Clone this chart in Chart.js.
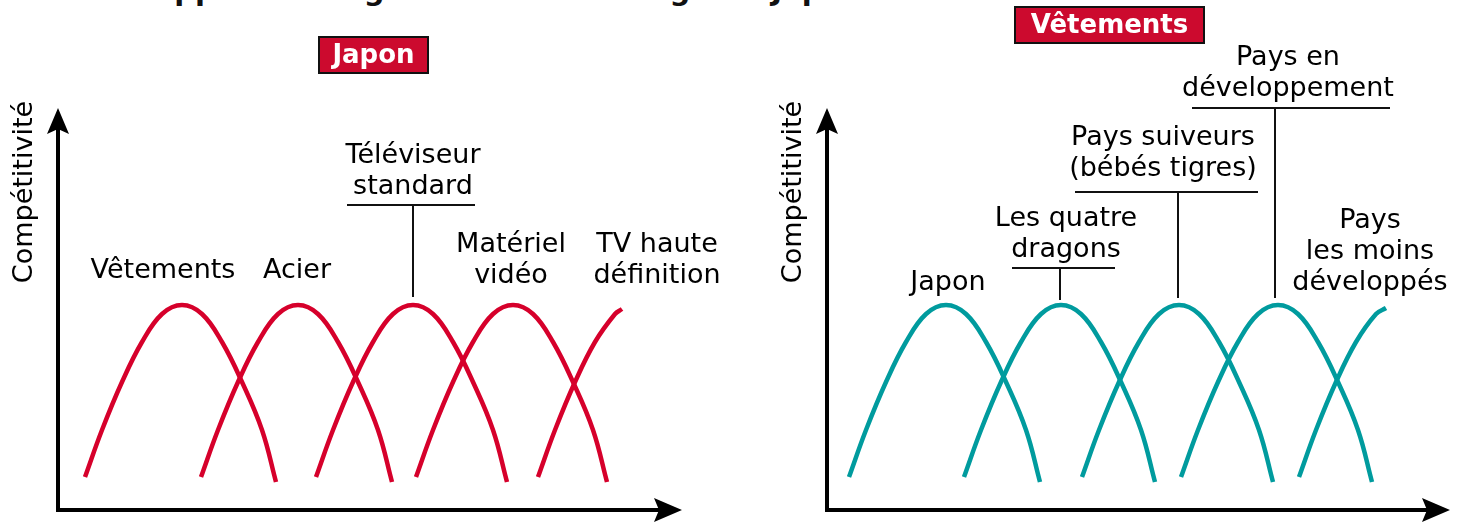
<!DOCTYPE html>
<html>
<head>
<meta charset="utf-8">
<script src="https://cdn.jsdelivr.net/npm/chart.js@4.4.0/dist/chart.umd.min.js"></script>
<style>
    html, body { margin: 0; padding: 0; background: #fff; }
    body { width: 1458px; height: 525px; position: relative; overflow: hidden; }
    #title { position: absolute; left: 62px; top: -24px; font: bold 29px/29px "DejaVu Sans"; color: #111; white-space: nowrap; }
    canvas { position: absolute; top: 0; }
    #left-chart { left: 0; }
    #right-chart { left: 729px; }
</style>
</head>
<body>
<div id="title">Développement régional dans le sillage du Japon</div>
<canvas id="left-chart" width="729" height="525"></canvas>
<canvas id="right-chart" width="729" height="525"></canvas>
<script>
// left panel: industries in Japan
const leftTitle = 'Japon';
const leftNames = ['Vêtements', 'Acier', 'Téléviseur\nstandard', 'Matériel\nvidéo', 'TV haute\ndéfinition'];
const leftVetements = [[27, 33], [44, 80], [64, 128], [84, 168], [104, 196], [124, 205], [144, 196], [164, 168], [184, 128], [204, 80], [218, 28]];
const leftAcier = [[143, 33], [160, 80], [180, 128], [200, 168], [220, 196], [240, 205], [260, 196], [280, 168], [300, 128], [320, 80], [334, 28]];
const leftTeleviseur = [[258, 33], [275, 80], [295, 128], [315, 168], [335, 196], [355, 205], [375, 196], [395, 168], [415, 128], [435, 80], [449, 28]];
const leftVideo = [[358, 33], [375, 80], [395, 128], [415, 168], [435, 196], [455, 205], [475, 196], [495, 168], [515, 128], [535, 80], [549, 28]];
const leftTvHd = [[480, 33], [497, 80], [517, 128], [537, 168], [557, 196], [564, 201]];

// right panel: clothing across the region
const rightTitle = 'Vêtements';
const rightNames = ['Japon', 'Les quatre\ndragons', 'Pays suiveurs\n(bébés tigres)', 'Pays en\ndéveloppement', 'Pays\nles moins\ndéveloppés'];
const rightJapon = [[22, 33], [39, 80], [59, 128], [79, 168], [99, 196], [119, 205], [139, 196], [159, 168], [179, 128], [199, 80], [213, 28]];
const rightDragons = [[137, 33], [154, 80], [174, 128], [194, 168], [214, 196], [234, 205], [254, 196], [274, 168], [294, 128], [314, 80], [328, 28]];
const rightSuiveurs = [[255, 33], [272, 80], [292, 128], [312, 168], [332, 196], [352, 205], [372, 196], [392, 168], [412, 128], [432, 80], [446, 28]];
const rightDev = [[354, 33], [371, 80], [391, 128], [411, 168], [431, 196], [451, 205], [471, 196], [491, 168], [511, 128], [531, 80], [545, 28]];
const rightPma = [[472, 33], [489, 80], [509, 128], [529, 168], [549, 196], [559, 202]];

const axisTitle = 'Compétitivité';

const RED = '#d6002b';
const TEAL = '#009b9e';
const BOX_RED = '#cc0a2e';
const FONT = '"DejaVu Sans", sans-serif';

// label placement (data units), kept apart from the series
const leftLabelPos = [
    { x: 105, y: 232 },
    { x: 239, y: 232 },
    { x: 355, y: 347, rule: { y: 305, from: 289, to: 417, x: 355, down: 213 } },
    { x: 453, y: 258 },
    { x: 599, y: 258 },
];
const rightLabelPos = [
    { x: 121, y: 220 },
    { x: 239, y: 284, rule: { y: 242, from: 185, to: 288, x: 233, down: 210 } },
    { x: 336, y: 365, rule: { y: 318, from: 248, to: 431, x: 351, down: 212 } },
    { x: 461, y: 445, rule: { y: 402, from: 365, to: 563, x: 448, down: 212 } },
    { x: 543, y: 282 },
];

function toPoints(arr) {
    return arr.map(p => ({ x: p[0], y: p[1] }));
}

const decorPlugin = {
    id: 'decor',
    afterDatasetsDraw(chart, args, opts) {
        const ctx = chart.ctx;
        const xs = chart.scales.x;
        const ys = chart.scales.y;
        const px = v => xs.getPixelForValue(v);
        const py = v => ys.getPixelForValue(v);
        const ca = chart.chartArea;
        const x0 = px(0);
        const y0 = py(0);

        ctx.save();

        // axes with arrow heads
        ctx.strokeStyle = '#000';
        ctx.fillStyle = '#000';
        ctx.lineWidth = 4;
        ctx.beginPath();
        ctx.moveTo(x0, y0 + 2);
        ctx.lineTo(x0, ca.top + 20);
        ctx.stroke();
        ctx.beginPath();
        ctx.moveTo(x0 - 2, y0);
        ctx.lineTo(ca.right - 20, y0);
        ctx.stroke();

        ctx.beginPath();
        ctx.moveTo(x0, ca.top);
        ctx.lineTo(x0 + 11, ca.top + 26);
        ctx.lineTo(x0, ca.top + 21);
        ctx.lineTo(x0 - 11, ca.top + 26);
        ctx.closePath();
        ctx.fill();

        ctx.beginPath();
        ctx.moveTo(ca.right, y0);
        ctx.lineTo(ca.right - 28, y0 - 12);
        ctx.lineTo(ca.right - 23, y0);
        ctx.lineTo(ca.right - 28, y0 + 12);
        ctx.closePath();
        ctx.fill();

        // rotated axis title
        ctx.save();
        ctx.translate(px(-33), py(318));
        ctx.rotate(-Math.PI / 2);
        ctx.font = '27px ' + FONT;
        ctx.textAlign = 'center';
        ctx.textBaseline = 'middle';
        ctx.fillStyle = '#000';
        ctx.fillText(axisTitle, 0, 0);
        ctx.restore();

        // red title box
        const b = opts.box;
        const bx = px(b.x1), by = py(b.y1);
        const bw = px(b.x2) - bx, bh = py(b.y2) - by;
        ctx.fillStyle = BOX_RED;
        ctx.fillRect(bx, by, bw, bh);
        ctx.lineWidth = 2;
        ctx.strokeStyle = '#111';
        ctx.strokeRect(bx, by, bw, bh);
        ctx.fillStyle = '#fff';
        ctx.font = 'bold 26px ' + FONT;
        ctx.textAlign = 'center';
        ctx.textBaseline = 'middle';
        ctx.fillText(b.text, bx + bw / 2, by + bh / 2 + 1);

        // curve labels and leader rules
        ctx.font = '27px ' + FONT;
        ctx.textBaseline = 'alphabetic';
        ctx.fillStyle = '#000';
        chart.data.datasets.forEach((ds, i) => {
            const pos = opts.labels[i];
            const lines = opts.names[i].split('\n');
            lines.forEach((line, k) => {
                ctx.fillText(line, px(pos.x), py(pos.y) + k * 31);
            });
            if (pos.rule) {
                const r = pos.rule;
                ctx.strokeStyle = '#111';
                ctx.lineWidth = 2;
                ctx.beginPath();
                ctx.moveTo(px(r.from), py(r.y));
                ctx.lineTo(px(r.to), py(r.y));
                ctx.moveTo(px(r.x), py(r.y));
                ctx.lineTo(px(r.x), py(r.down));
                ctx.stroke();
            }
        });

        ctx.restore();
    }
};

function makeChart(id, names, seriesList, color, padding, xMax, box, labels) {
    return new Chart(document.getElementById(id), {
        type: 'line',
        data: {
            datasets: seriesList.map((s, i) => ({
                label: names[i].replace(/\n/g, ' '),
                data: toPoints(s),
                borderColor: color,
                borderWidth: 4.5,
                pointRadius: 0,
                fill: false,
                tension: 0.4,
            })),
        },
        options: {
            responsive: false,
            animation: false,
            devicePixelRatio: 1,
            layout: { padding: padding },
            scales: {
                x: { type: 'linear', min: 0, max: xMax, display: false },
                y: { type: 'linear', min: 0, max: 402, display: false },
            },
            plugins: {
                legend: { display: false },
                tooltip: { enabled: false },
                decor: { box: box, names: names, labels: labels },
            },
        },
        plugins: [decorPlugin],
    });
}

makeChart('left-chart', leftNames,
    [leftVetements, leftAcier, leftTeleviseur, leftVideo, leftTvHd],
    RED, { left: 58, right: 47, top: 108, bottom: 15 }, 624,
    { x1: 261, x2: 370, y1: 473, y2: 437, text: leftTitle }, leftLabelPos);

makeChart('right-chart', rightNames,
    [rightJapon, rightDragons, rightSuiveurs, rightDev, rightPma],
    TEAL, { left: 98, right: 8, top: 108, bottom: 15 }, 623,
    { x1: 188, x2: 377, y1: 503, y2: 467, text: rightTitle }, rightLabelPos);
</script>
</body>
</html>
